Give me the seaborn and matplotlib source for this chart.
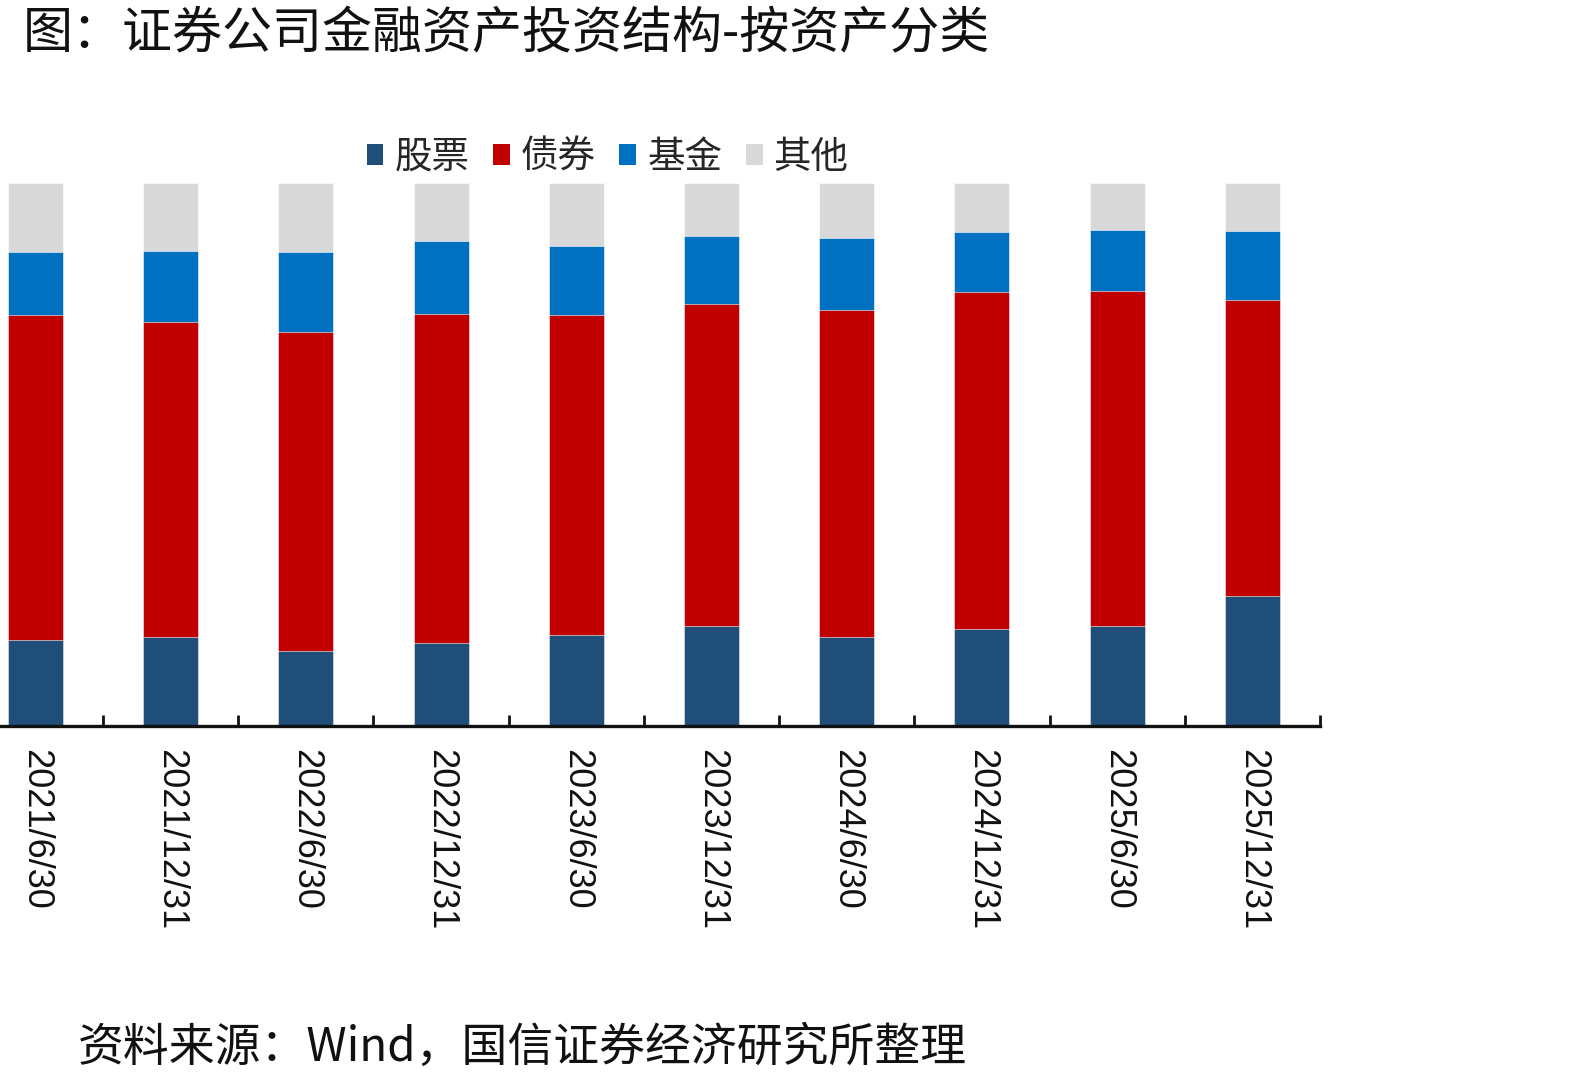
import matplotlib
matplotlib.use("Agg")
import matplotlib.pyplot as plt
import seaborn as sns
import numpy as np
import pandas as pd
from matplotlib.patches import Patch

dates = ["2021/6/30", "2021/12/31", "2022/6/30", "2022/12/31", "2023/6/30",
         "2023/12/31", "2024/6/30", "2024/12/31", "2025/6/30", "2025/12/31"]
stock = [15.9, 16.3, 13.8, 15.3, 16.8, 18.4, 16.3, 17.9, 18.4, 23.9]
bond = [59.7, 58.0, 58.7, 60.6, 58.9, 59.3, 60.2, 62.0, 61.6, 54.6]
fund = [11.7, 13.1, 14.7, 13.4, 12.7, 12.5, 13.3, 11.0, 11.4, 12.7]
other = [12.7, 12.6, 12.8, 10.7, 11.6, 9.8, 10.2, 9.1, 8.6, 8.8]
series_names = ["股票", "债券", "基金", "其他"]
colors = ["#1F4E79", "#C00000", "#0070C0", "#D9D9D9"]

sns.set_theme(style="white")
plt.rcParams['font.family'] = ['Noto Sans CJK SC', 'DejaVu Sans']
plt.rcParams['xtick.bottom'] = True

df = pd.DataFrame({"date": dates, "股票": stock, "债券": bond, "基金": fund, "其他": other})
vals = df[series_names].to_numpy()
total = vals.sum(axis=1, keepdims=True)
pct = vals / total * 100
cum = np.cumsum(pct, axis=1)

fig = plt.figure(figsize=(15.95, 10.85), dpi=100)
ax = fig.add_axes([-0.0202, 0.331, 0.8478, 0.5005])

for i in range(3, -1, -1):
    sns.barplot(x=df["date"], y=cum[:, i], color=colors[i], width=0.407,
                ax=ax, edgecolor="white", linewidth=0.4, saturation=1)

ax.set_xlim(-0.5, 9.5)
ax.set_ylim(0, 100)
for s in ["top", "left", "right"]:
    ax.spines[s].set_visible(False)
ax.spines["bottom"].set_linewidth(2.4)
ax.spines["bottom"].set_color("#111111")
ax.set_yticks([])
ax.set_xlabel("")
ax.set_ylabel("")
ax.set_xticks(range(len(dates)))
ax.set_xticklabels(dates, rotation=270, fontsize=26, va="top", ha="center", color="#111111",
                   fontfamily="Liberation Sans")
ax.tick_params(axis="x", which="major", bottom=True, length=0, pad=17,
               labelfontfamily="Liberation Sans")
ax.set_xticks(np.arange(-0.5, 10, 1.0), minor=True)
ax.tick_params(axis="x", which="minor", bottom=True, direction="in", length=8, width=2,
               color="#111111")

handles = [Patch(facecolor=c, edgecolor="none") for c in colors]
fig.legend(handles, series_names, loc="center", bbox_to_anchor=(0.381, 0.855), ncol=4,
           frameon=False, fontsize=27, handlelength=0.45, handleheight=0.45,
           handletextpad=0.3, columnspacing=0.62)

fig.text(0.014, 0.968, "图：证券公司金融资产投资结构-按资产分类", fontsize=36, va="center", ha="left",
         color="#111111", fontweight="medium")
fig.text(0.049, 0.034, "资料来源：Wind，国信证券经济研究所整理", fontsize=33, va="center", ha="left",
         color="#111111", family=['Noto Sans CJK SC', 'DejaVu Sans'])

fig.savefig("out.png", dpi=100)
